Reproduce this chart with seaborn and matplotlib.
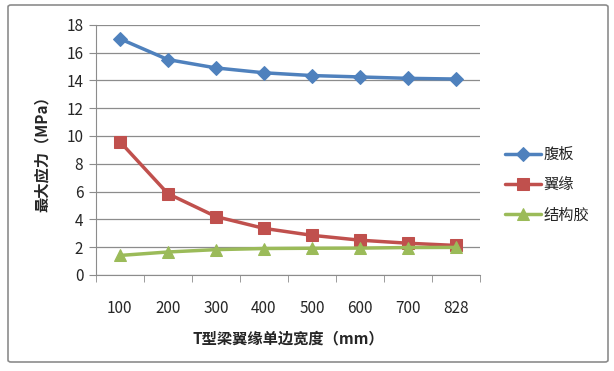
import pandas as pd
import numpy as np
import matplotlib.pyplot as plt
import seaborn as sns
from matplotlib.patches import FancyBboxPatch
from matplotlib.ticker import FixedLocator

widths = ['100', '200', '300', '400', '500', '600', '700', '828']
web = [17.0, 15.5, 14.9, 14.55, 14.35, 14.25, 14.15, 14.1]
flange = [9.6, 5.85, 4.2, 3.35, 2.85, 2.5, 2.28, 2.12]
glue = [1.4, 1.65, 1.82, 1.9, 1.92, 1.93, 1.97, 1.98]
series_names = ['腹板', '翼缘', '结构胶']

df = pd.DataFrame({
    'width': widths * 3,
    'stress': web + flange + glue,
    'part': np.repeat(series_names, len(widths)),
})

sns.set_style('white')
plt.rcParams['font.family'] = ['Noto Sans CJK SC', 'DejaVu Sans']

fig = plt.figure(figsize=(6.14, 3.71), dpi=100)
ax = fig.add_axes([0.156, 0.259, 0.626, 0.674])

# outer frame like the Excel chart area
fig.patches.append(FancyBboxPatch((8 / 614, 1 - 362 / 371), 600 / 614, 357 / 371,
                                  boxstyle='round,pad=0,rounding_size=0.005',
                                  transform=fig.transFigure, facecolor='none',
                                  edgecolor='#8c8c8c', linewidth=1.2))

colors = ['#4F81BD', '#C0504D', '#9BBB59']
markers = ['D', 's', '^']
sizes = [7, 9, 9]
for name, c, m, s in zip(series_names, colors, markers, sizes):
    sub = df[df['part'] == name]
    sns.lineplot(data=sub, x='width', y='stress', ax=ax, color=c, marker=m,
                 markersize=s, markeredgecolor=c, linewidth=2.5, label=name,
                 sort=False)

ax.set_ylim(0, 18)
ax.set_yticks(range(0, 19, 2))
ax.set_xlim(-0.5, 7.5)
ax.grid(axis='y', color='#8c8c8c', linewidth=0.9)
ax.set_axisbelow(True)
for side in ['top', 'right']:
    ax.spines[side].set_visible(False)
ax.spines['left'].set_color('#8c8c8c')
ax.spines['bottom'].set_color('#8c8c8c')
ax.xaxis.set_minor_locator(FixedLocator(np.arange(-0.5, 8, 1)))
ax.tick_params(axis='x', which='major', length=0, pad=18, labelsize=11)
ax.tick_params(axis='x', which='minor', length=5, color='#8c8c8c', direction='out')
ax.tick_params(axis='y', length=5, color='#8c8c8c', direction='out', labelsize=11, pad=4)
ax.xaxis.set_ticks_position('bottom')
ax.yaxis.set_ticks_position('left')

ax.set_xlabel('T型梁翼缘单边宽度（mm）', fontsize=11, fontweight='bold', labelpad=10)
ax.set_ylabel('最大应力（MPa）', fontsize=11, fontweight='bold', labelpad=12)

ax.legend(loc='center left', bbox_to_anchor=(1.03, 0.36), frameon=False,
          fontsize=11, handlelength=2.3, labelspacing=0.85, handletextpad=0.2)

fig.savefig('out.png', dpi=100)
